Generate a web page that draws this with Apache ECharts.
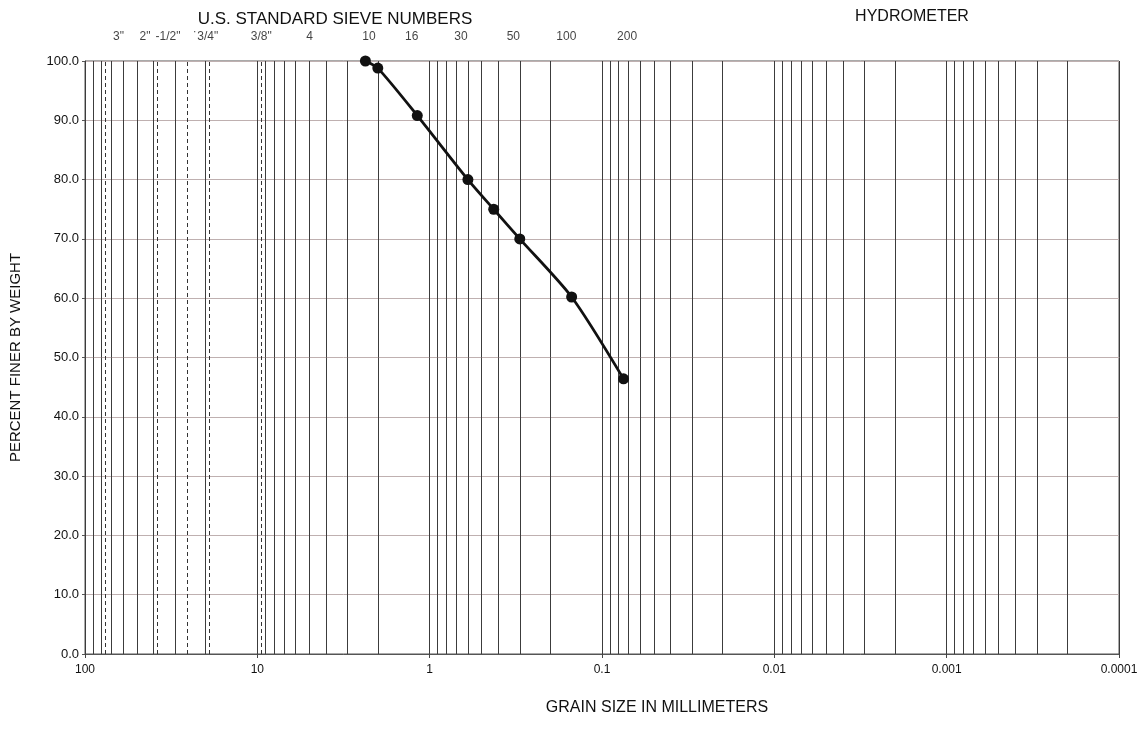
<!DOCTYPE html>
<html>
<head>
<meta charset="utf-8">
<title>Grain Size Distribution</title>
<script src="https://cdn.jsdelivr.net/npm/echarts@6/dist/echarts.min.js"></script>
<style>
  html, body { margin: 0; padding: 0; background: #ffffff; }
  #chart { width: 1145px; height: 740px; }
</style>
</head>
<body>
<div id="chart"></div>
<script>
// Sieve analysis: grain size (mm) vs percent finer by weight
const grainSizeMm   = [2.36, 2.0, 1.18, 0.6, 0.425, 0.3, 0.15, 0.075];
const percentFiner  = [100, 98.8, 90.8, 80, 75, 70, 60.2, 46.4];

// U.S. standard sieve labels along the top, with the size each one sits over
const sieveLabels   = ['3"', '2"', '-1/2"', '\u02d93/4"', '3/8"', '4', '10', '16', '30', '50', '100', '200'];
const sieveLabelAt  = [63.9, 44.9, 33.0, 19.9, 9.49, 4.97, 2.25, 1.27, 0.659, 0.327, 0.161, 0.0715];

// Coarse sieve openings drawn as dashed reference lines (3", 1-1/2", 1", 3/4", 3/8")
const dashedSizes   = [76.2, 38.1, 25.4, 19.05, 9.525];

// Log grid: 1..9 in every decade between 0.0001 and 100 mm
const decades       = [-4, -3, -2, -1, 0, 1];
const mantissas     = [1, 2, 3, 4, 5, 6, 7, 8, 9];
const gridSizes = [];
decades.forEach(function (d) {
  mantissas.forEach(function (m) { gridSizes.push(+(m * Math.pow(10, d)).toPrecision(6)); });
});
gridSizes.push(100);

const yTicks = { min: 0, max: 100, interval: 10 };

function sizeLabel(v) {
  const e = Math.round(Math.log10(v));
  if (e >= 0) return String(Math.pow(10, e));
  return '0.' + '0'.repeat(-e - 1) + '1';
}

const FONT = 'Liberation Sans, Arial, sans-serif';
const INK = '#111111';
const chart = echarts.init(document.getElementById('chart'), null, { renderer: 'canvas' });

chart.setOption({
  animation: false,
  backgroundColor: '#ffffff',
  title: [
    { text: 'U.S. STANDARD SIEVE NUMBERS', left: 330, top: 6, textAlign: 'center',
      textStyle: { fontFamily: FONT, fontSize: 17, fontWeight: 'normal', color: INK } },
    { text: 'HYDROMETER', left: 907, top: 4, textAlign: 'center',
      textStyle: { fontFamily: FONT, fontSize: 16, fontWeight: 'normal', color: INK } },
    { text: 'GRAIN SIZE IN MILLIMETERS', left: 652, top: 695, textAlign: 'center',
      textStyle: { fontFamily: FONT, fontSize: 16, fontWeight: 'normal', color: INK } }
  ],
  grid: {
    left: 83, right: 26, top: 61, bottom: 86,
    show: true, borderColor: '#555555', borderWidth: 1
  },
  xAxis: {
    type: 'log',
    logBase: 10,
    min: 0.0001,
    max: 100,
    inverse: true,
    splitNumber: 6,
    axisLine: { show: true, lineStyle: { color: '#555555', width: 1 } },
    axisTick: { show: true, length: 4, lineStyle: { color: '#444444' } },
    axisLabel: {
      formatter: sizeLabel, margin: 10,
      fontFamily: FONT, fontSize: 12, color: INK
    },
    splitLine: { show: false }
  },
  yAxis: {
    type: 'value',
    min: yTicks.min,
    max: yTicks.max,
    interval: yTicks.interval,
    name: 'PERCENT FINER BY WEIGHT',
    nameLocation: 'middle',
    nameGap: 62,
    nameRotate: 90,
    nameTextStyle: { fontFamily: FONT, fontSize: 15, color: INK },
    axisLine: { show: true, lineStyle: { color: '#555555', width: 1 } },
    axisTick: { show: true, length: 3, lineStyle: { color: '#555555' } },
    axisLabel: {
      formatter: function (v) { return v.toFixed(1); },
      margin: 6, fontFamily: FONT, fontSize: 13, color: INK
    },
    splitLine: { show: true, lineStyle: { color: '#bfb0b0', width: 1 } }
  },
  series: [
    {
      // vertical log grid lines
      type: 'line',
      data: [],
      silent: true,
      markLine: {
        silent: true,
        precision: 10,
        symbol: ['none', 'none'],
        label: { show: false },
        emphasis: { disabled: true },
        lineStyle: { color: '#3c3c3c', width: 1, type: 'solid' },
        data: gridSizes.map(function (v) { return { xAxis: v }; })
      }
    },
    {
      // dashed lines at coarse sieve openings
      type: 'line',
      data: [],
      silent: true,
      markLine: {
        silent: true,
        precision: 10,
        symbol: ['none', 'none'],
        label: { show: false },
        emphasis: { disabled: true },
        lineStyle: { color: '#333333', width: 1, type: [4, 3] },
        data: dashedSizes.map(function (v) { return { xAxis: v }; })
      }
    },
    {
      // sieve number labels above the plot
      type: 'scatter',
      silent: true,
      symbolSize: 0,
      clip: false,
      data: sieveLabels.map(function (t, i) { return { name: t, value: [sieveLabelAt[i], 100] }; }),
      label: {
        show: true, position: 'top', distance: 18,
        formatter: function (p) { return p.name; },
        fontFamily: FONT, fontSize: 12, color: INK
      }
    },
    {
      name: 'Percent finer',
      type: 'line',
      smooth: 0.25,
      symbol: 'circle',
      symbolSize: 11,
      clip: false,
      itemStyle: { color: '#111111' },
      lineStyle: { color: '#111111', width: 2.8 },
      data: grainSizeMm.map(function (s, i) { return [s, percentFiner[i]]; }),
      z: 5
    }
  ]
});
</script>
</body>
</html>
